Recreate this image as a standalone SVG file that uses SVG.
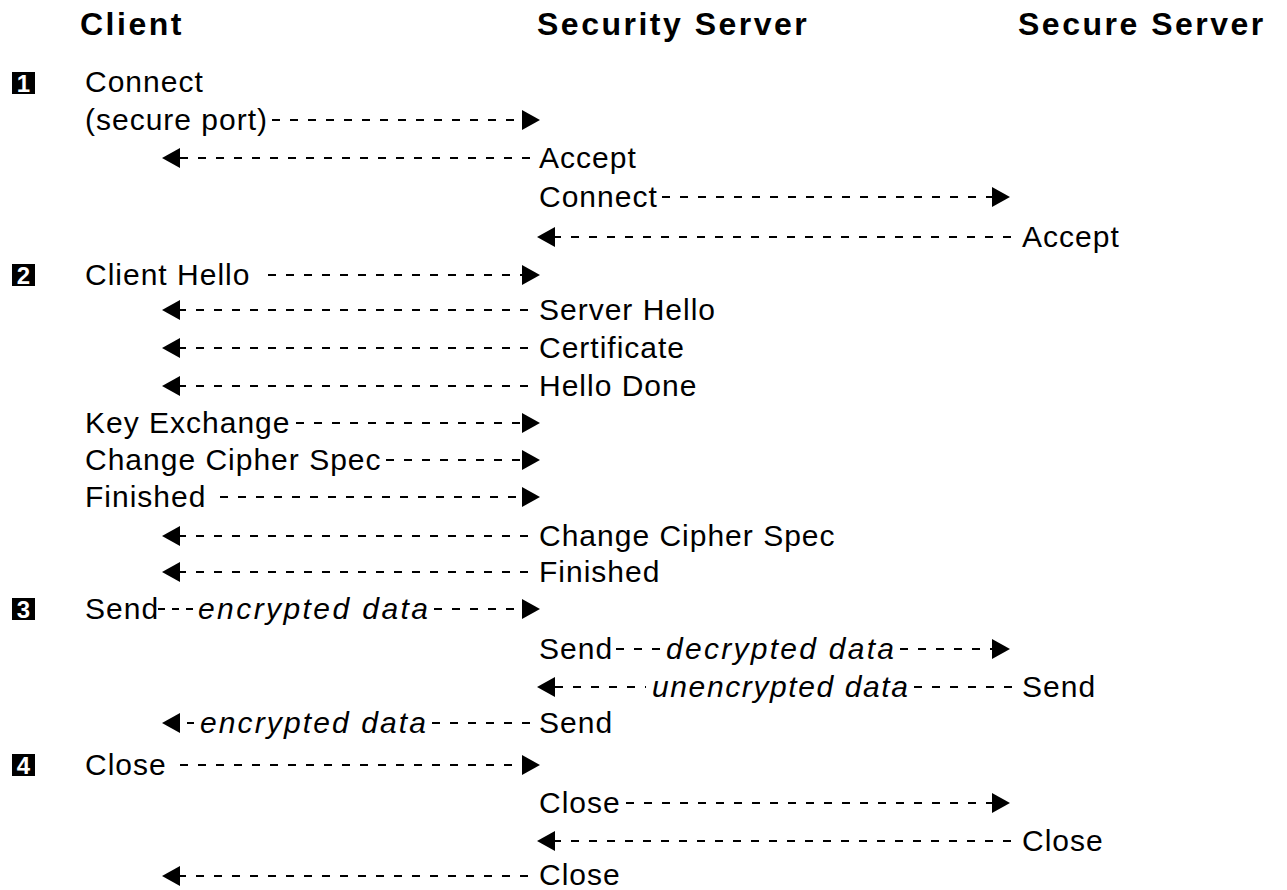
<svg xmlns="http://www.w3.org/2000/svg" width="1287" height="890" viewBox="0 0 1287 890">
<defs>
<style>
.t{font-family:"Liberation Sans",Arial,sans-serif;font-size:30px;letter-spacing:1px;fill:#000}
.i{font-family:"Liberation Sans",Arial,sans-serif;font-size:30px;font-style:italic;fill:#000}
.h{font-family:"Liberation Sans",Arial,sans-serif;font-size:32px;font-weight:bold;letter-spacing:2.5px;fill:#000}
.n{font-family:"Liberation Sans",Arial,sans-serif;font-size:24px;font-weight:bold;fill:#fff;text-anchor:middle}
.d{stroke:#000;stroke-width:2;stroke-dasharray:8 10;fill:none}
.s{stroke:#000;stroke-width:2;stroke-dasharray:7 7;fill:none}
</style>
<path id="ar" d="M0,0 L-18,-10 L-18,10 Z"/>
<path id="al" d="M0,0 L18,-10 L18,10 Z"/>
</defs>
<rect width="1287" height="890" fill="#fff"/>
<g id="headers">
<text class="h" x="80" y="35">Client</text>
<text class="h" x="537" y="35">Security Server</text>
<text class="h" x="1018" y="35">Secure Server</text>
</g>
<g id="steps">
<g id="step1"><rect x="12" y="72" width="23" height="22" fill="#000"/><text class="n" x="23.5" y="92">1</text></g>
<g id="step2"><rect x="12" y="264" width="23" height="22" fill="#000"/><text class="n" x="23.5" y="284">2</text></g>
<g id="step3"><rect x="12" y="598" width="23" height="22" fill="#000"/><text class="n" x="23.5" y="618">3</text></g>
<g id="step4"><rect x="12" y="754" width="23" height="22" fill="#000"/><text class="n" x="23.5" y="774">4</text></g>
</g>
<g id="labels">
<text class="t" x="85" y="92">Connect</text>
<text class="t" x="85" y="130">(secure port)</text>
<text class="t" x="539" y="168">Accept</text>
<text class="t" x="539" y="207">Connect</text>
<text class="t" x="1022" y="247">Accept</text>
<text class="t" x="85" y="285">Client Hello</text>
<text class="t" x="539" y="320">Server Hello</text>
<text class="t" x="539" y="358">Certificate</text>
<text class="t" x="539" y="396">Hello Done</text>
<text class="t" x="85" y="433">Key Exchange</text>
<text class="t" x="85" y="470">Change Cipher Spec</text>
<text class="t" x="85" y="507">Finished</text>
<text class="t" x="539" y="546">Change Cipher Spec</text>
<text class="t" x="539" y="582">Finished</text>
<text class="t" x="85" y="619">Send</text>
<text class="i" x="198" y="619" textLength="230" lengthAdjust="spacing">encrypted data</text>
<text class="t" x="539" y="659">Send</text>
<text class="i" x="666" y="659" textLength="228" lengthAdjust="spacing">decrypted data</text>
<text class="i" x="652" y="697" textLength="256" lengthAdjust="spacing">unencrypted data</text>
<text class="t" x="1022" y="697">Send</text>
<text class="i" x="200" y="733" textLength="226" lengthAdjust="spacing">encrypted data</text>
<text class="t" x="539" y="733">Send</text>
<text class="t" x="85" y="775">Close</text>
<text class="t" x="539" y="813">Close</text>
<text class="t" x="1022" y="851">Close</text>
<text class="t" x="539" y="885">Close</text>
</g>
<g id="connectors">
<path class="d" d="M272,120 H524"/><use href="#ar" x="540" y="120"/>
<path class="d" d="M180,158 H535"/><use href="#al" x="162" y="158"/>
<path class="d" d="M662,197 H994"/><use href="#ar" x="1010" y="197"/>
<path class="d" d="M553,237 H1016"/><use href="#al" x="537" y="237"/>
<path class="d" d="M268,275 H524"/><use href="#ar" x="540" y="275"/>
<path class="d" d="M178,310 H535"/><use href="#al" x="162" y="310"/>
<path class="d" d="M178,348 H535"/><use href="#al" x="162" y="348"/>
<path class="d" d="M178,386 H535"/><use href="#al" x="162" y="386"/>
<path class="d" d="M296,423 H524"/><use href="#ar" x="540" y="423"/>
<path class="d" d="M386,460 H524"/><use href="#ar" x="540" y="460"/>
<path class="d" d="M220,497 H524"/><use href="#ar" x="540" y="497"/>
<path class="d" d="M178,536 H535"/><use href="#al" x="162" y="536"/>
<path class="d" d="M178,572 H535"/><use href="#al" x="162" y="572"/>
<path class="s" d="M158,609 H193"/>
<path class="d" d="M434,609 H524"/><use href="#ar" x="540" y="609"/>
<path class="d" d="M616,649 H662"/>
<path class="d" d="M900,649 H994"/><use href="#ar" x="1010" y="649"/>
<path class="d" d="M555,687 H646"/>
<path class="d" d="M914,687 H1016"/><use href="#al" x="537" y="687"/>
<path class="s" d="M187,723 H194"/><use href="#al" x="162" y="723"/>
<path class="d" d="M432,723 H535"/>
<path class="d" d="M180,765 H524"/><use href="#ar" x="540" y="765"/>
<path class="d" d="M626,803 H994"/><use href="#ar" x="1010" y="803"/>
<path class="d" d="M553,841 H1016"/><use href="#al" x="537" y="841"/>
<path class="d" d="M178,876 H535"/><use href="#al" x="162" y="876"/>
</g>
</svg>
